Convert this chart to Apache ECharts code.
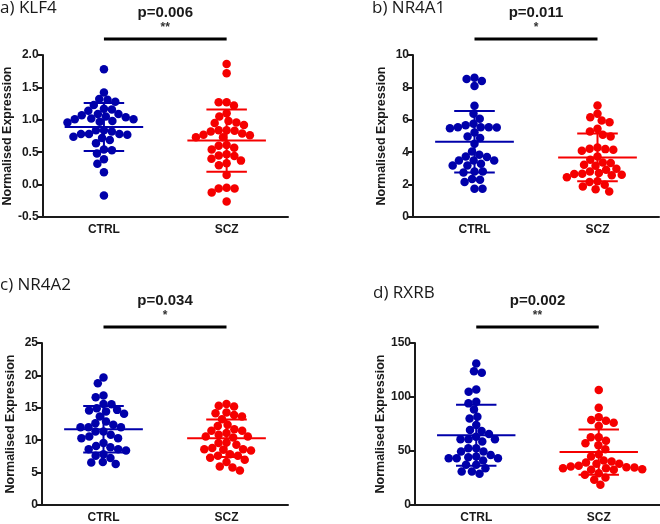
<!DOCTYPE html>
<html><head><meta charset="utf-8">
<script src="https://cdn.jsdelivr.net/npm/echarts@6/dist/echarts.min.js"></script>
<style>html,body{margin:0;padding:0;background:#fff}#c{width:660px;height:524px}</style>
</head><body><div id="c"></div>
<script>
// ---------- data ----------
const categories = ['CTRL', 'SCZ'];
const panelTitles = ['a) KLF4', 'b) NR4A1', 'c) NR4A2', 'd) RXRB'];
const pValues = ['p=0.006', 'p=0.011', 'p=0.034', 'p=0.002'];
const stars = ['**', '*', '*', '**'];
const axisMin = [-0.5, 0, 0, 0];
const axisMax = [2.0, 10, 25, 150];
const axisStep = [0.5, 2, 5, 50];
const labelDecimals = [1, 0, 0, 0];

const klf4Ctrl = [1.78,1.42,1.23,1.31,1.28,1.32,1.16,1.14,1.17,1.09,1.09,1.05,1.02,0.98,0.97,0.96,1.01,1.01,1.04,1.07,0.84,0.82,0.78,0.77,0.72,0.74,0.78,0.78,0.84,0.64,0.69,0.53,0.54,0.48,0.39,0.32,0.19,-0.17];
const klf4Scz = [1.86,1.72,1.22,1.27,1.27,1.05,1.10,0.96,0.92,0.95,0.98,0.84,0.82,0.77,0.73,0.73,0.76,0.79,0.83,0.84,0.57,0.54,0.61,0.60,0.47,0.44,0.37,0.30,0.33,0.40,0.45,0.15,-0.05,-0.06,-0.12,-0.06,-0.26];
const nr4a1Ctrl = [8.52,8.09,8.40,8.60,6.86,6.37,6.06,5.75,5.54,5.54,5.48,5.67,5.52,5.54,5.22,4.97,4.87,4.52,4.05,3.84,3.70,3.49,3.29,3.18,3.18,3.49,3.49,3.74,2.81,2.75,2.81,2.16,2.34,2.30,1.75,1.75];
const nr4a1Scz = [6.88,6.16,5.85,5.95,6.37,5.44,5.28,5.07,4.97,4.21,4.15,4.19,4.09,4.29,3.53,3.74,3.37,3.22,2.98,2.81,2.92,3.16,3.33,2.65,2.57,2.46,2.61,2.67,2.71,2.16,1.89,2.20,1.99,1.58,1.72];
const nr4a2Ctrl = [19.67,18.8,16.9,16.64,15.6,15.56,14.68,14.43,13.66,14.07,14.58,14.94,12.89,12.37,12.0,12.0,12.0,12.63,11.35,10.58,10.32,10.32,10.83,11.35,9.55,8.93,8.62,8.62,8.4,9.1,7.85,7.24,6.62,6.31,6.57,7.6];
const nr4a2Scz = [15.6,15.2,15.3,14.17,13.9,14.27,13.66,13.25,12.2,12.37,11.7,11.45,10.83,10.58,10.42,10.58,11.1,11.45,9.55,8.78,8.62,8.42,8.52,8.62,9.29,9.65,7.85,7.6,7.6,7.3,6.98,6.62,5.95,5.34,5.8];
const rxrbCtrl = [131,123.9,122.4,104.8,107,94.1,95.6,88.5,81.8,80.2,74.1,68.6,69.5,65.8,63.3,60.9,58.7,60.9,60.9,52.6,49.5,52.6,49.5,44.9,43.3,43.3,46.4,43.3,44.3,37.2,41.2,34.1,37.2,31.0,28.9,31.0];
const rxrbScz = [106.4,90.1,78.7,76.2,78.1,81.2,73.2,62.7,62.7,57.2,59.6,55.3,51.6,47.0,45.0,41.2,39.3,38.1,38.1,40.3,35.7,34.1,33.2,32.6,35.0,32.6,34.1,34.7,36.3,28.0,29.5,25.5,23.4,18.7];

// mean and SD per group [CTRL, SCZ]
const klf4Mean = [0.89, 0.68];  const klf4Sd = [0.37, 0.48];
const nr4a1Mean = [4.65, 3.68]; const nr4a1Sd = [1.90, 1.47];
const nr4a2Mean = [11.68, 10.3]; const nr4a2Sd = [3.59, 2.9];
const rxrbMean = [64.6, 49.0];  const rxrbSd = [28.3, 21.0];

const panelValues = [[klf4Ctrl, klf4Scz], [nr4a1Ctrl, nr4a1Scz], [nr4a2Ctrl, nr4a2Scz], [rxrbCtrl, rxrbScz]];
const panelMeans = [klf4Mean, nr4a1Mean, nr4a2Mean, rxrbMean];
const panelSds = [klf4Sd, nr4a1Sd, nr4a2Sd, rxrbSd];

// ---------- layout ----------
const grids = [
  {left: 42, top: 55, width: 246, height: 162},
  {left: 413, top: 55, width: 246, height: 162},
  {left: 42, top: 343, width: 246, height: 162},
  {left: 415, top: 343, width: 246, height: 162}
];
const titlePos = [{left: 0, top: 0}, {left: 372, top: 0}, {left: 0, top: 277}, {left: 373, top: 285}];
const BLUE = '#0000aa', RED = '#f50000', INK = '#1a1a1a';
const DOT = 8.5, SPACING = 8;

function swarm(vals, pxPerY, D) {
  const idx = vals.map((v, i) => i).sort((a, b) => vals[b] - vals[a]);
  const placed = [], xs = new Array(vals.length);
  for (const i of idx) {
    const y = vals[i] * pxPerY;
    const iv = [];
    for (const p of placed) {
      const dy = Math.abs(p.y - y);
      if (dy < D) { const w = Math.sqrt(D * D - dy * dy); iv.push([p.x - w, p.x + w]); }
    }
    const cands = [0];
    iv.forEach(v => cands.push(v[0], v[1]));
    cands.sort((a, b) => Math.abs(a) - Math.abs(b));
    let x = 0;
    for (const c of cands) {
      if (iv.every(v => c <= v[0] + 1e-6 || c >= v[1] - 1e-6)) { x = c; break; }
    }
    xs[i] = x; placed.push({x, y});
  }
  return xs;
}

const option = {
  backgroundColor: '#fff',
  animation: false,
  title: [], grid: [], xAxis: [], yAxis: [], series: []
};

const axisStyle = {color: INK, fontWeight: 'bold', fontSize: 12, fontFamily: 'Liberation Sans, Arial, sans-serif'};

for (let p = 0; p < 4; p++) {
  const g = grids[p];
  option.grid.push(Object.assign({containLabel: false}, g));
  option.title.push({
    text: panelTitles[p], left: titlePos[p].left, top: titlePos[p].top, padding: 0,
    textStyle: {fontFamily: 'Open Sans', fontWeight: 'normal', fontSize: 17, color: INK}
  });
  // visible category axis
  option.xAxis.push({
    type: 'category', gridIndex: p, data: categories, boundaryGap: true,
    axisLine: {onZero: false, lineStyle: {color: INK, width: 2}},
    axisTick: {alignWithLabel: true, length: 5, lineStyle: {color: INK, width: 2}},
    axisLabel: Object.assign({margin: 7}, axisStyle)
  });
  // hidden value axis for jittered points
  option.xAxis.push({
    type: 'value', gridIndex: p, min: -0.5, max: 1.5, show: false, splitLine: {show: false}
  });
  const dec = labelDecimals[p];
  option.yAxis.push({
    type: 'value', gridIndex: p, min: axisMin[p], max: axisMax[p], interval: axisStep[p],
    name: 'Normalised Expression', nameLocation: 'middle', nameRotate: 90, nameGap: 25,
    nameTextStyle: Object.assign({}, axisStyle, {fontSize: 12.5}),
    axisLine: {show: true, onZero: false, lineStyle: {color: INK, width: 2}},
    axisTick: {show: true, length: 5, lineStyle: {color: INK, width: 2}},
    axisLabel: Object.assign({margin: 4, formatter: v => v.toFixed(dec)}, axisStyle),
    splitLine: {show: false}
  });
  const pxPerY = g.height / (axisMax[p] - axisMin[p]);
  const pxPerX = g.width / 2;
  for (let k = 0; k < 2; k++) {
    const vals = panelValues[p][k];
    const offs = swarm(vals, pxPerY, SPACING);
    option.series.push({
      type: 'scatter', xAxisIndex: 2 * p + 1, yAxisIndex: p,
      symbolSize: DOT, itemStyle: {color: k === 0 ? BLUE : RED, opacity: 1},
      data: vals.map((v, i) => [k + offs[i] / pxPerX, v]), z: 2
    });
  }
  // mean +/- SD
  option.series.push({
    type: 'custom', xAxisIndex: 2 * p + 1, yAxisIndex: p, z: 5,
    data: [0, 1].map(k => [k, panelMeans[p][k], panelSds[p][k]]),
    renderItem: function (params, api) {
      const x = api.value(0), m = api.value(1), s = api.value(2);
      const c = api.coord([x, m]), up = api.coord([x, m + s]), lo = api.coord([x, m - s]);
      const wm = api.size([0.32, 0])[0], wc = api.size([0.165, 0])[0];
      const col = x === 0 ? BLUE : RED;
      const st = {stroke: col, lineWidth: 2};
      return {type: 'group', children: [
        {type: 'line', shape: {x1: c[0] - wm, y1: c[1], x2: c[0] + wm, y2: c[1]}, style: st},
        {type: 'line', shape: {x1: c[0], y1: up[1], x2: c[0], y2: lo[1]}, style: st},
        {type: 'line', shape: {x1: c[0] - wc, y1: up[1], x2: c[0] + wc, y2: up[1]}, style: st},
        {type: 'line', shape: {x1: c[0] - wc, y1: lo[1], x2: c[0] + wc, y2: lo[1]}, style: st}
      ]};
    }
  });
  // significance bar
  option.series.push({
    type: 'custom', xAxisIndex: 2 * p + 1, yAxisIndex: p, z: 5, clip: false,
    data: [[0, axisMax[p]]],
    renderItem: function (params, api) {
      const a = api.coord([0, axisMax[p]]), b = api.coord([1, axisMax[p]]);
      const y = a[1] - 16, mid = (a[0] + b[0]) / 2;
      return {type: 'group', children: [
        {type: 'line', shape: {x1: a[0], y1: y, x2: b[0], y2: y}, style: {stroke: '#000', lineWidth: 3}},
        {type: 'text', x: mid, y: y - 26, style: {text: pValues[p], textAlign: 'center', textVerticalAlign: 'middle',
          fill: INK, font: 'bold 15px "Liberation Sans", Arial, sans-serif'}},
        {type: 'text', x: mid, y: y - 11, style: {text: stars[p], textAlign: 'center', textVerticalAlign: 'middle',
          fill: '#333', font: 'bold 12px "Liberation Sans", Arial, sans-serif'}}
      ]};
    }
  });
}

const chart = echarts.init(document.getElementById('c'), null, {renderer: 'canvas'});
chart.setOption(option);
</script>
</body></html>
